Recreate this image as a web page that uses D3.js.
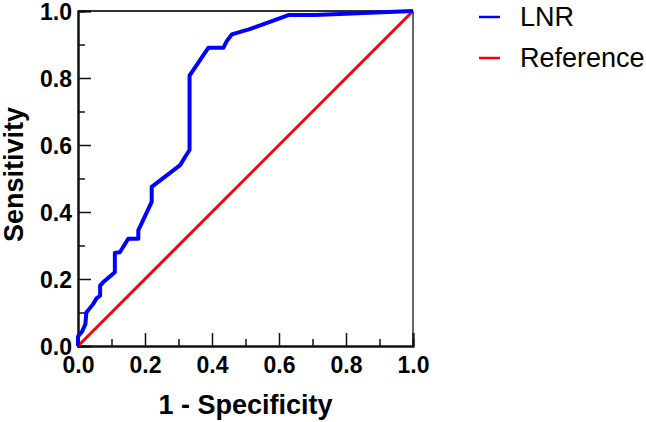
<!DOCTYPE html>
<html>
<head>
<meta charset="utf-8">
<script src="https://cdn.jsdelivr.net/npm/d3@7"></script>
<style>
  body { margin: 0; background: #fff; }
  text { font-family: "Liberation Sans", Arial, sans-serif; }
  .tick-label { font-weight: bold; font-size: 23px; }
  .axis-title { font-weight: bold; font-size: 27px; }
  .legend-label { font-size: 27px; }
</style>
</head>
<body>
<script>
// ROC curve points (1 - specificity, sensitivity)
var fpr = [0, 0, 0.012, 0.022, 0.025, 0.045, 0.055, 0.066, 0.066, 0.075, 0.11, 0.11, 0.125, 0.15, 0.18, 0.18,
    0.22, 0.22, 0.305, 0.32, 0.333, 0.333, 0.389, 0.434, 0.444, 0.459, 0.51, 0.628, 0.707, 1];
var tpr = [0, 0.028, 0.043, 0.065, 0.1, 0.125, 0.142, 0.15, 0.18, 0.19, 0.22, 0.278, 0.28, 0.32, 0.32, 0.345,
    0.43, 0.475, 0.54, 0.565, 0.585, 0.807, 0.89, 0.89, 0.91, 0.93, 0.945, 0.988, 0.988, 1];
var refX = [0, 1];
var refY = [0, 1];

var seriesNames = ["LNR", "Reference"];
var seriesColors = ["#0000ff", "#ff0000"];
var majorTicks = [0, 0.2, 0.4, 0.6, 0.8, 1.0];
var minorTicks = [0.1, 0.3, 0.5, 0.7, 0.9];

const W = 646, H = 422;
const margin = { top: 11, left: 78, right: 233, bottom: 76 };
const width = W - margin.left - margin.right;
const height = H - margin.top - margin.bottom;

const svg = d3.select("body").append("svg")
    .attr("width", W)
    .attr("height", H);

const g = svg.append("g")
    .attr("transform", "translate(" + margin.left + "," + margin.top + ")");

const x = d3.scaleLinear().domain([0, 1]).range([0, width]);
const y = d3.scaleLinear().domain([0, 1]).range([height, 0]);

// frame top / right
g.append("line").attr("x1", 0).attr("x2", width).attr("y1", 0).attr("y2", 0)
    .attr("stroke", "#333").attr("stroke-width", 2);
g.append("line").attr("x1", width).attr("x2", width).attr("y1", 0).attr("y2", height)
    .attr("stroke", "#333").attr("stroke-width", 1.5);

// x axis, ticks pointing inside
const xAxis = g.append("g").attr("transform", "translate(0," + height + ")");
xAxis.call(d3.axisBottom(x).tickValues(minorTicks).tickSize(-7).tickFormat(""));
xAxis.call(g2 => g2.append("g").call(d3.axisBottom(x).tickValues(majorTicks).tickSize(-13).tickFormat(d3.format(".1f"))));
xAxis.selectAll("path.domain").attr("stroke", "#111").attr("stroke-width", 2);
xAxis.selectAll(".tick line").attr("stroke", "#111").attr("stroke-width", 1.5);
xAxis.selectAll(".tick text").attr("class", "tick-label").attr("fill", "#000")
    .attr("y", 11).attr("dy", "0.71em");

// y axis, ticks pointing inside
const yAxis = g.append("g");
yAxis.call(d3.axisLeft(y).tickValues(minorTicks).tickSize(-7).tickFormat(""));
yAxis.call(g2 => g2.append("g").call(d3.axisLeft(y).tickValues(majorTicks).tickSize(-13).tickFormat(d3.format(".1f"))));
yAxis.selectAll("path.domain").attr("stroke", "#111").attr("stroke-width", 2);
yAxis.selectAll(".tick line").attr("stroke", "#111").attr("stroke-width", 1.5);
yAxis.selectAll(".tick text").attr("class", "tick-label").attr("fill", "#000")
    .attr("x", -6).attr("dy", "0.36em");

// axis titles
g.append("text")
    .attr("class", "axis-title")
    .attr("x", width / 2)
    .attr("y", height + 68)
    .attr("text-anchor", "middle")
    .text("1 - Specificity");

g.append("text")
    .attr("class", "axis-title")
    .attr("transform", "rotate(-90)")
    .attr("x", -height / 2 + 4)
    .attr("y", -margin.left + 23)
    .attr("text-anchor", "middle")
    .text("Sensitivity");

const line = d3.line().x(d => x(d[0])).y(d => y(d[1]));

// reference diagonal
g.append("path")
    .datum(d3.zip(refX, refY))
    .attr("d", line)
    .attr("fill", "none")
    .attr("stroke", seriesColors[1])
    .attr("stroke-width", 3);

// ROC curve
g.append("path")
    .datum(d3.zip(fpr, tpr))
    .attr("d", line)
    .attr("fill", "none")
    .attr("stroke", seriesColors[0])
    .attr("stroke-width", 4)
    .attr("stroke-linejoin", "round");

// legend
const legend = svg.append("g").attr("transform", "translate(479,17)");
seriesNames.forEach(function (name, i) {
    const row = legend.append("g").attr("transform", "translate(0," + (i * 41) + ")");
    row.append("line").attr("x1", 0).attr("x2", 21).attr("y1", 0).attr("y2", 0)
        .attr("stroke", seriesColors[i]).attr("stroke-width", 2.5);
    row.append("text").attr("class", "legend-label")
        .attr("x", 41).attr("y", 0).attr("dy", "0.35em")
        .text(name);
});
</script>
</body>
</html>
